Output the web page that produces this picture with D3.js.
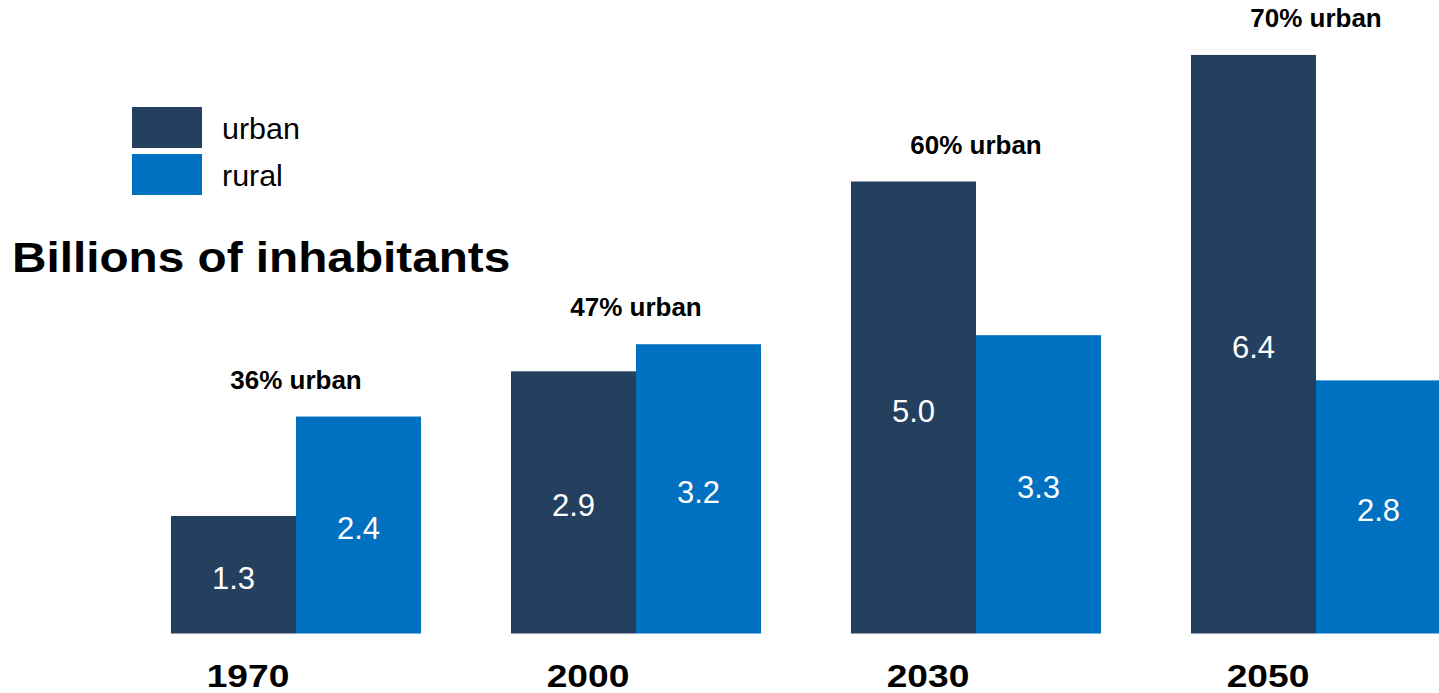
<!DOCTYPE html>
<html>
<head>
<meta charset="utf-8">
<script src="https://cdn.jsdelivr.net/npm/d3@7"></script>
<style>
  body { margin: 0; background: #fff; }
  text { font-family: "Liberation Sans", Arial, sans-serif; }
</style>
</head>
<body>
<div id="chart"></div>
<script>
// chart data
const years = ["1970", "2000", "2030", "2050"];
const urban = [1.3, 2.9, 5.0, 6.4];
const rural = [2.4, 3.2, 3.3, 2.8];
const urbanShare = ["36% urban", "47% urban", "60% urban", "70% urban"];
const seriesNames = ["urban", "rural"];

const width = 1439;
const height = 693;
const colors = { urban: "#253f5f", rural: "#0070c0" };

const svg = d3.select("#chart")
    .append("svg")
    .attr("width", width)
    .attr("height", height);

const x0 = d3.scaleBand()
    .domain(years)
    .range([171, 1441])
    .paddingInner(90 / 340)
    .paddingOuter(0);

const x1 = d3.scaleBand()
    .domain(seriesNames)
    .range([0, x0.bandwidth()]);

const y = d3.scaleLinear()
    .domain([0, 7])
    .range([633.5, 0.7]);

const rows = years.map((yr, i) => ({ year: yr, urban: urban[i], rural: rural[i], share: urbanShare[i] }));

const groups = svg.selectAll("g.year")
    .data(rows)
    .enter()
    .append("g")
    .attr("class", "year")
    .attr("transform", d => `translate(${x0(d.year)},0)`);

// bars
groups.selectAll("rect")
    .data(d => seriesNames.map(k => ({ key: k, value: d[k] })))
    .enter()
    .append("rect")
    .attr("x", d => x1(d.key))
    .attr("y", d => y(d.value))
    .attr("width", x1.bandwidth())
    .attr("height", d => y(0) - y(d.value))
    .attr("fill", d => colors[d.key]);

// values inside bars
groups.selectAll("text.val")
    .data(d => seriesNames.map(k => ({ key: k, value: d[k] })))
    .enter()
    .append("text")
    .attr("class", "val")
    .attr("x", d => x1(d.key) + x1.bandwidth() / 2)
    .attr("y", d => (y(d.value) + y(0)) / 2 + 14)
    .attr("text-anchor", "middle")
    .attr("fill", "#fff")
    .style("font-size", "31px")
    .text(d => d3.format(".1f")(d.value));

// share of urban above each pair
groups.append("text")
    .attr("x", x0.bandwidth() / 2)
    .attr("y", d => y(Math.max(d.urban, d.rural)) - 28)
    .attr("text-anchor", "middle")
    .style("font-size", "26px")
    .style("font-weight", "bold")
    .text(d => d.share);

// year labels (text in the original is a bit wider than Arial)
groups.append("text")
    .attr("transform", "translate(77,687) scale(1.16,1)")
    .attr("text-anchor", "middle")
    .style("font-size", "32px")
    .style("font-weight", "bold")
    .text(d => d.year);

// title
svg.append("text")
    .attr("transform", "translate(12,272) scale(1.11,1)")
    .style("font-size", "43px")
    .style("font-weight", "bold")
    .text("Billions of inhabitants");

// legend
const legend = svg.selectAll("g.legend")
    .data(seriesNames)
    .enter()
    .append("g")
    .attr("class", "legend")
    .attr("transform", (d, i) => `translate(132,${107 + i * 47})`);

legend.append("rect")
    .attr("width", 70)
    .attr("height", 41)
    .attr("fill", d => colors[d]);

legend.append("text")
    .attr("transform", "translate(90,32) scale(1.05,1)")
    .style("font-size", "29px")
    .text(d => d);
</script>
</body>
</html>
